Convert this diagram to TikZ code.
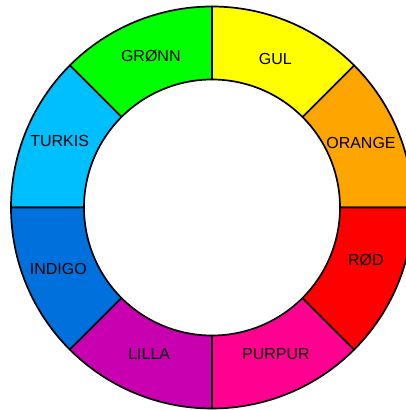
\documentclass[tikz,border=0pt]{standalone}
\usepackage{fontspec}
\setmainfont{Liberation Sans}
\definecolor{gronn}{RGB}{0,255,0}
\definecolor{gul}{RGB}{255,255,0}
\definecolor{oransje}{RGB}{255,165,0}
\definecolor{rod}{RGB}{255,0,0}
\definecolor{purpur}{RGB}{255,0,144}
\definecolor{lilla}{RGB}{200,0,176}
\definecolor{indigo}{RGB}{0,112,221}
\definecolor{turkis}{RGB}{0,191,255}
\begin{document}
\begin{tikzpicture}[
        x=1pt, y=1pt,
        segment/.style={draw=black, line width=1.7pt, line join=round},
        label/.style={font=\fontsize{16}{18}\selectfont, inner sep=0pt}
    ]
        \useasboundingbox (-212,207.5) rectangle (194,-202.5);
        \clip (-212,207.5) rectangle (194,-202.5);

        % Ring segments, 45 degrees each
        \filldraw[segment, fill=oransje] (0:201) arc[start angle=0, end angle=45, radius=201] -- (45:128) arc[start angle=45, end angle=0, radius=128] -- cycle;
        \filldraw[segment, fill=gul] (45:201) arc[start angle=45, end angle=90, radius=201] -- (90:128) arc[start angle=90, end angle=45, radius=128] -- cycle;
        \filldraw[segment, fill=gronn] (90:201) arc[start angle=90, end angle=135, radius=201] -- (135:128) arc[start angle=135, end angle=90, radius=128] -- cycle;
        \filldraw[segment, fill=turkis] (135:201) arc[start angle=135, end angle=180, radius=201] -- (180:128) arc[start angle=180, end angle=135, radius=128] -- cycle;
        \filldraw[segment, fill=indigo] (180:201) arc[start angle=180, end angle=225, radius=201] -- (225:128) arc[start angle=225, end angle=180, radius=128] -- cycle;
        \filldraw[segment, fill=lilla] (225:201) arc[start angle=225, end angle=270, radius=201] -- (270:128) arc[start angle=270, end angle=225, radius=128] -- cycle;
        \filldraw[segment, fill=purpur] (270:201) arc[start angle=270, end angle=315, radius=201] -- (315:128) arc[start angle=315, end angle=270, radius=128] -- cycle;
        \filldraw[segment, fill=rod] (315:201) arc[start angle=315, end angle=360, radius=201] -- (360:128) arc[start angle=360, end angle=315, radius=128] -- cycle;

        % Colour names
        \node[label] (gul) at (63.3, 149) {GUL};
        \node[label] (gronn) at (-61.2, 151.2) {GRØNN};
        \node[label] (turkis) at (-152.3, 66.2) {TURKIS};
        \node[label] (indigo) at (-153.7, -61.5) {INDIGO};
        \node[label] (lilla) at (-62.8, -146.5) {LILLA};
        \node[label] (purpur) at (64, -146.5) {PURPUR};
        \node[label] (rod) at (153.8, -52.8) {RØD};
        \node[label] (orange) at (149, 64.2) {ORANGE};

    \end{tikzpicture}
\end{document}
